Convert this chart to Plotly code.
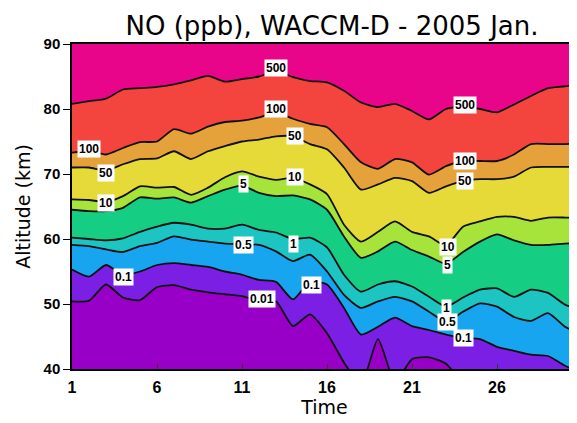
"""
NO (ppb) altitude-time section, WACCM-D, January 2005.
Filled bands between contour lines read off the reference plot.
"""

import plotly.graph_objects as go

# Days of the month (x axis)
days = list(range(1, 32))

# Altitude (km) of each NO contour line, one value per day
alt_001 = [50.4, 50.5, 53.0, 51.0, 50.6, 52.6, 52.9, 52.2, 51.8, 51.5, 51.2,
           50.5, 50.4, 46.6, 48.4, 45.5, 41.0, 37.5, 44.6, 38.0, 41.5, 41.8,
           40.8, 38.0, 38.0, 38.0, 38.0, 38.0, 38.0, 38.0, 38.0]
alt_01 = [55.3, 54.2, 56.0, 54.5, 55.0, 56.0, 56.3, 56.0, 55.7, 55.0, 54.5,
          53.7, 53.4, 50.7, 53.5, 53.0, 49.4, 45.3, 46.5, 47.9, 46.6, 46.0,
          45.3, 44.8, 44.6, 43.4, 42.8, 42.2, 42.0, 40.5, 39.5]
alt_05 = [59.1, 58.9, 58.4, 58.0, 58.9, 59.4, 60.4, 59.9, 59.6, 59.3, 59.2,
          59.1, 58.1, 56.6, 57.6, 55.0, 51.4, 49.4, 50.4, 51.1, 50.4, 48.8,
          47.3, 48.8, 50.1, 49.6, 48.0, 47.4, 48.6, 46.5, 45.3]
alt_1 = [60.2, 60.0, 59.8, 60.1, 61.1, 61.9, 62.5, 62.2, 61.6, 61.6, 62.2,
         61.4, 61.0, 60.0, 60.2, 58.7, 54.5, 51.9, 53.0, 53.5, 52.7, 51.1,
         49.6, 51.0, 52.2, 52.4, 51.1, 52.2, 51.7, 49.9, 49.0]
alt_5 = [64.5, 64.3, 64.3, 64.8, 66.4, 66.2, 66.4, 65.6, 66.6, 67.6, 68.2,
         67.1, 66.6, 66.7, 66.1, 64.5, 60.4, 57.1, 58.1, 59.6, 58.3, 57.3,
         56.2, 58.0, 59.6, 60.7, 59.8, 59.1, 59.1, 59.3, 59.4]
alt_10 = [66.1, 66.0, 65.7, 66.6, 68.1, 67.9, 68.0, 66.8, 67.9, 69.5, 70.4,
          69.6, 69.1, 69.4, 68.4, 66.9, 62.2, 59.6, 61.1, 62.7, 61.1, 60.4,
          59.0, 61.9, 62.7, 63.4, 63.4, 62.8, 63.3, 63.3, 63.2]
alt_50 = [71.0, 71.0, 70.5, 71.5, 72.3, 72.4, 73.5, 72.3, 73.5, 74.3, 75.0,
          75.3, 75.8, 75.8, 74.6, 73.8, 71.0, 67.6, 68.4, 69.4, 68.9, 67.1,
          68.1, 68.9, 69.2, 69.2, 69.6, 71.0, 71.1, 71.1, 71.1]
alt_100 = [73.3, 73.5, 73.0, 74.0, 74.9, 75.0, 76.9, 76.2, 77.3, 78.0, 78.2,
           78.7, 79.5, 78.5, 77.7, 77.2, 74.6, 71.8, 70.8, 72.3, 71.8, 69.9,
           71.2, 72.0, 72.0, 72.0, 73.0, 74.6, 74.6, 74.6, 74.8]
alt_500 = [80.8, 81.2, 81.6, 83.0, 83.2, 83.4, 83.8, 84.4, 85.1, 84.2, 84.6,
           85.0, 85.8, 84.9, 84.3, 84.1, 82.8, 81.0, 80.3, 80.8, 79.7, 78.4,
           80.0, 80.4, 80.0, 79.5, 80.7, 82.0, 83.2, 83.5, 84.0]

# Contour labels as drawn on the lines: text, day, altitude
label_text = ["500", "500", "100", "100", "100", "50", "50", "50",
              "10", "10", "10", "5", "5", "1", "1", "0.5", "0.5",
              "0.1", "0.1", "0.1", "0.01"]
label_day = [13.0, 24.1, 2.0, 13.0, 24.1, 3.0, 14.1, 24.1,
             3.0, 14.1, 23.1, 11.1, 23.1, 14.0, 23.0, 11.1, 23.1,
             4.0, 15.1, 24.0, 12.2]
label_alt = [86.3, 80.6, 73.8, 80.0, 72.0, 70.2, 75.8, 68.9,
             65.6, 69.6, 58.7, 68.4, 56.0, 59.3, 49.4, 59.1, 47.2,
             54.2, 53.0, 44.8, 50.8]

lines = [alt_001, alt_01, alt_05, alt_1, alt_5, alt_10, alt_50, alt_100, alt_500]

# Band colours, bottom (< 0.01 ppb) to top (> 500 ppb)
band_colors = ["#9800C8", "#7B1FE4", "#17A5F0", "#1CC4C2", "#16CD84",
               "#A6E43C", "#E6DA38", "#E6A23A", "#F3443E"]
top_color = "#E8058A"

fig = go.Figure()

# Filled bands first
for i, (alts, col) in enumerate(zip(lines, band_colors)):
    fig.add_trace(go.Scatter(
        x=days, y=alts, mode="lines",
        line=dict(width=0, shape="spline", smoothing=0.6),
        fill="tozeroy" if i == 0 else "tonexty",
        fillcolor=col, hoverinfo="skip", showlegend=False,
    ))

# Black contour lines on top
for alts in lines:
    fig.add_trace(go.Scatter(
        x=days, y=alts, mode="lines",
        line=dict(color="#111111", width=1.8, shape="spline", smoothing=0.6),
        hoverinfo="skip", showlegend=False,
    ))

for txt, d, a in zip(label_text, label_day, label_alt):
    fig.add_annotation(
        x=d, y=a, text=txt, showarrow=False,
        bgcolor="white", borderpad=1,
        font=dict(family="Liberation Sans", size=12, color="black", weight="bold"),
    )

# page body has an 8px margin, so the figure is sized to fit inside it
fig.update_layout(
    width=569, height=415,
    margin=dict(l=64, r=0, t=36, b=54),
    paper_bgcolor="white",
    plot_bgcolor=top_color,
    title=dict(
        text="NO (ppb), WACCM-D - 2005 Jan.",
        x=324 / 569, xref="container", xanchor="center",
        y=1 - 18 / 415, yref="container", yanchor="middle",
        font=dict(family="DejaVu Sans", size=26, color="black"),
    ),
    xaxis=dict(
        range=[1, 30.706], tickvals=[1, 6, 11, 16, 21, 26, 31],
        ticks="inside", ticklen=5, tickcolor="#333333",
        showline=True, linecolor="black", linewidth=1.5, mirror=True,
        showgrid=False, zeroline=False,
        tickfont=dict(family="Liberation Sans", size=16, color="black", weight="bold"),
        ticklabelstandoff=3,
        title=dict(text="Time", standoff=2,
                   font=dict(family="DejaVu Sans", size=19, color="black")),
    ),
    yaxis=dict(
        range=[40, 90], tickvals=[40, 50, 60, 70, 80, 90],
        ticks="outside", ticklen=7, tickcolor="black",
        showline=True, linecolor="black", linewidth=1.5,
        showgrid=False, zeroline=False,
        tickfont=dict(family="Liberation Sans", size=15, color="black", weight="bold"),
        title=dict(text="Altitude (km)", standoff=8,
                   font=dict(family="DejaVu Sans", size=19, color="black")),
    ),
)

fig.write_html("out.html")
